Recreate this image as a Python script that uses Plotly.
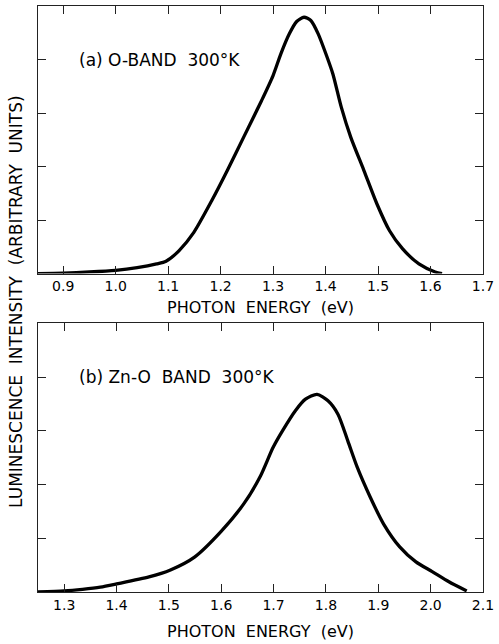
import plotly.graph_objects as go

# Panel (a): O-band 300 K
a_energy = [0.85, 0.90, 0.95, 1.00, 1.041, 1.078, 1.096, 1.121, 1.149, 1.183, 1.213, 1.244,
            1.278, 1.300, 1.315, 1.331, 1.345, 1.359, 1.372, 1.386, 1.402, 1.414, 1.430,
            1.448, 1.473, 1.498, 1.522, 1.547, 1.578, 1.609, 1.622]
a_intensity = [0.00, 0.01, 0.03, 0.06, 0.11, 0.18, 0.23, 0.43, 0.77, 1.36, 1.93, 2.55,
               3.23, 3.70, 4.11, 4.48, 4.71, 4.79, 4.73, 4.48, 4.07, 3.73, 3.11,
               2.55, 1.93, 1.30, 0.80, 0.46, 0.18, 0.03, 0.00]

# Panel (b): Zn-O band 300 K
b_energy = [1.25, 1.30, 1.335, 1.369, 1.400, 1.462, 1.503, 1.549, 1.599, 1.643, 1.674, 1.699,
            1.717, 1.742, 1.761, 1.783, 1.804, 1.823, 1.842, 1.860, 1.885, 1.910, 1.941,
            1.972, 2.003, 2.035, 2.069]
b_intensity = [0.00, 0.02, 0.05, 0.09, 0.15, 0.28, 0.41, 0.65, 1.12, 1.64, 2.14, 2.69,
               3.00, 3.38, 3.59, 3.68, 3.56, 3.31, 2.81, 2.32, 1.76, 1.27, 0.84,
               0.56, 0.38, 0.19, 0.02]

a_ticks = [0.9, 1.0, 1.1, 1.2, 1.3, 1.4, 1.5, 1.6, 1.7]
a_ticklabels = ["0.9", "1.0", "1.1", "1.2", "1.3", "1.4", "1.5", "1.6", "1.7"]
b_ticks = [1.3, 1.4, 1.5, 1.6, 1.7, 1.8, 1.9, 2.0, 2.1]
b_ticklabels = ["1.3", "1.4", "1.5", "1.6", "1.7", "1.8", "1.9", "2.0", "2.1"]
y_ticks = [0, 1, 2, 3, 4, 5]

FONT = "DejaVu Sans"
SP = "\u00a0\u00a0"

fig = go.Figure()
fig.add_trace(go.Scatter(x=a_energy, y=a_intensity, mode="lines",
                         line=dict(color="black", width=3.3, shape="spline", smoothing=0.7),
                         xaxis="x", yaxis="y", showlegend=False))
fig.add_trace(go.Scatter(x=b_energy, y=b_intensity, mode="lines",
                         line=dict(color="black", width=3.3, shape="spline", smoothing=0.7),
                         xaxis="x2", yaxis="y2", showlegend=False))

axis_common = dict(showline=True, linecolor="#222", linewidth=1, mirror="ticks",
                   ticks="inside", ticklen=8, tickcolor="#222", showgrid=False,
                   zeroline=False)

fig.update_layout(
    width=499, height=644,
    margin=dict(l=38, r=7, t=5, b=52),
    paper_bgcolor="white", plot_bgcolor="white",
    font=dict(family=FONT, color="black"),
    xaxis=dict(domain=[0, 1], anchor="y", range=[0.852, 1.7001], tickvals=a_ticks,
               ticktext=a_ticklabels, tickfont=dict(size=14), ticklabeloverflow="allow",
               **axis_common),
    yaxis=dict(domain=[0.5434, 1.0], anchor="x", range=[0, 5], tickvals=y_ticks,
               showticklabels=False, **axis_common),
    xaxis2=dict(domain=[0, 1], anchor="y2", range=[1.25, 2.1001], tickvals=b_ticks,
                ticktext=b_ticklabels, tickfont=dict(size=14), ticklabeloverflow="allow",
                **axis_common),
    yaxis2=dict(domain=[0, 0.4583], anchor="x2", range=[0, 5], tickvals=y_ticks,
                showticklabels=False, **axis_common),
)

xtitle = "PHOTON" + SP + "ENERGY" + SP + "(eV)"
for yy in [(592 - 307) / 587, (592 - 632) / 587]:
    fig.add_annotation(text=xtitle, x=0.5, y=yy, xref="paper", yref="paper",
                       showarrow=False, font=dict(size=16, family=FONT),
                       xanchor="center", yanchor="middle")

fig.add_annotation(text="LUMINESCENCE" + SP + "INTENSITY" + SP + "(ARBITRARY" + SP + "UNITS)",
                   textangle=-90,
                   x=(16 - 38) / 454, y=(592 - 301) / 587, xref="paper", yref="paper",
                   showarrow=False, font=dict(size=17, family=FONT),
                   xanchor="center", yanchor="middle")

fig.add_annotation(text="(a) O-BAND" + SP + "300°K", x=(78 - 38) / 454, y=(592 - 59) / 587,
                   xref="paper", yref="paper", showarrow=False,
                   font=dict(size=17, family=FONT), xanchor="left", yanchor="middle")
fig.add_annotation(text="(b) Zn-O" + SP + "BAND" + SP + "300°K", x=(78 - 38) / 454,
                   y=(592 - 377) / 587, xref="paper", yref="paper", showarrow=False,
                   font=dict(size=17, family=FONT), xanchor="left", yanchor="middle")

fig.write_html("out.html")
